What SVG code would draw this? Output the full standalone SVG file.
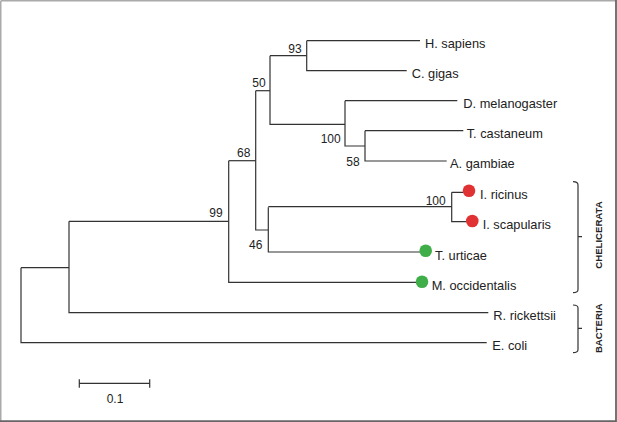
<svg xmlns="http://www.w3.org/2000/svg" width="617" height="422" viewBox="0 0 617 422">
<style>
.br{fill:none;stroke:#333;stroke-width:1.2}
.lb{font-family:"Liberation Sans",Arial,sans-serif;font-size:12.8px;fill:#222;dominant-baseline:central}
.bs{font-family:"Liberation Sans",Arial,sans-serif;font-size:12px;fill:#222;dominant-baseline:central;text-anchor:middle}
.gr{font-family:"Liberation Sans",Arial,sans-serif;font-size:9.6px;font-weight:bold;fill:#222;dominant-baseline:central;text-anchor:middle}
.red{fill:#e03232}
.grn{fill:#3fae49}
</style>
<rect x="0" y="0" width="617" height="422" fill="#fff"/>
<path d="M0.75,0.75 H616 M0.75,0.75 V421" fill="none" stroke="#aaa" stroke-width="1.5"/>
<path d="M616,0 V421.25 H0" fill="none" stroke="#666" stroke-width="1.8"/>
<g id="connectors">
<path class="br" d="M21,267.7 V342.7 H486.7"/>
<path class="br" d="M21,267.7 H69"/>
<path class="br" d="M69,221.3 V312.7 H488.3"/>
<path class="br" d="M69,221.3 H228.7"/>
<path class="br" d="M228.7,160.7 V282.3 H416.7"/>
<path class="br" d="M228.7,160.7 H255.7"/>
<path class="br" d="M255.7,90.7 V230 H268.3"/>
<path class="br" d="M255.7,90.7 H270"/>
<path class="br" d="M270,55.7 V124.3 H345"/>
<path class="br" d="M270,55.7 H306.7"/>
<path class="br" d="M306.7,40.7 H420 M306.7,40.7 V70.7 H406.7"/>
<path class="br" d="M345,100.7 H457.3 M345,100.7 V146 H365"/>
<path class="br" d="M365,130.7 H463.3 M365,130.7 V161 H446.7"/>
<path class="br" d="M268.3,207.3 V252 H420"/>
<path class="br" d="M268.3,206.7 H451.7"/>
<path class="br" d="M451.7,192.3 H463 M451.7,192.3 V221.7 H466.7"/>
</g>
<g id="support">
<text class="bs" x="295" y="49.3">93</text>
<text class="bs" x="259" y="83">50</text>
<text class="bs" x="243.7" y="153">68</text>
<text class="bs" x="216" y="213.3">99</text>
<text class="bs" x="330.7" y="139">100</text>
<text class="bs" x="353" y="162">58</text>
<text class="bs" x="255.7" y="244.6">46</text>
<text class="bs" x="435.7" y="201">100</text>
</g>
<g id="n-hsapiens"><text class="lb" x="425" y="43.2">H. sapiens</text></g>
<g id="n-cgigas"><text class="lb" x="411.7" y="73.2">C. gigas</text></g>
<g id="n-dmelanogaster"><text class="lb" x="463.3" y="103.2">D. melanogaster</text></g>
<g id="n-tcastaneum"><text class="lb" x="466.7" y="133.2">T. castaneum</text></g>
<g id="n-agambiae"><text class="lb" x="450" y="163.5">A. gambiae</text></g>
<g id="n-iricinus"><circle class="red" cx="469" cy="190.7" r="6.3"/><text class="lb" x="480" y="194.8">I. ricinus</text></g>
<g id="n-iscapularis"><circle class="red" cx="472.3" cy="221" r="6.3"/><text class="lb" x="482.7" y="224.5">I. scapularis</text></g>
<g id="n-turticae"><circle class="grn" cx="425.7" cy="250.7" r="6.3"/><text class="lb" x="435" y="255">T. urticae</text></g>
<g id="n-moccidentalis"><circle class="grn" cx="422" cy="281.7" r="6.3"/><text class="lb" x="431.7" y="285.5">M. occidentalis</text></g>
<g id="n-rrickettsii"><text class="lb" x="493.3" y="315.2">R. rickettsii</text></g>
<g id="n-ecoli"><text class="lb" x="492.3" y="345.2">E. coli</text></g>
<g id="g-chelicerata">
<path class="br" d="M573,181.7 Q578,181.7 578,185 V236.7 H582 M578,236.7 V289.5 Q578,292.7 573,292.7"/>
<text class="gr" transform="translate(598.3,235) rotate(-90)">CHELICERATA</text>
</g>
<g id="g-bacteria">
<path class="br" d="M573,305 Q578,305 578,308 V328.3 H582 M578,328.3 V349.5 Q578,352.7 573,352.7"/>
<text class="gr" transform="translate(598.3,328.3) rotate(-90)">BACTERIA</text>
</g>
<g id="scale">
<path class="br" d="M79.3,383.3 H149.7 M79.3,379.3 V387.7 M149.7,379.3 V387.7"/>
<text class="bs" x="115" y="399.3">0.1</text>
</g>
</svg>
